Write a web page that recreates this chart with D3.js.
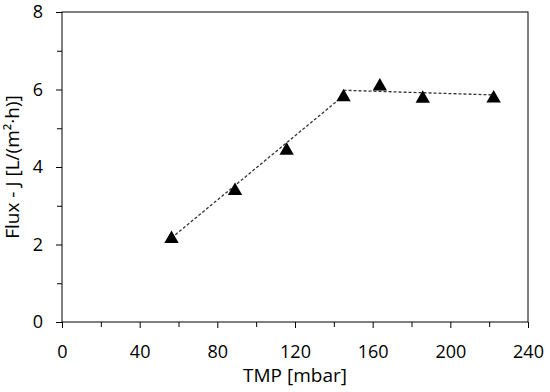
<!DOCTYPE html>
<html>
<head>
<meta charset="utf-8">
<script src="https://cdn.jsdelivr.net/npm/d3@7"></script>
<style>
  body { margin: 0; background: #fff; }
  text { font-family: "Open Sans", sans-serif; fill: #000; }
</style>
</head>
<body>
<script>
// measured points (TMP in mbar, flux in L/(m2.h))
const tmp = [56.4, 89.1, 115.7, 145, 163.7, 185.8, 222.3]
const flux = [2.17, 3.41, 4.45, 5.83, 6.11, 5.79, 5.80]

// dashed trend segments, end points
const trend1 = [[56.4, 2.17], [145, 5.84]]
const trend2 = [[145, 5.98], [222.3, 5.86]]

const xTicks = [0, 40, 80, 120, 160, 200, 240]
const xMinor = [20, 60, 100, 140, 180, 220]
const yTicks = [0, 2, 4, 6, 8]
const yMinor = [1, 3, 5, 7]

const w = 550
const h = 392
const mLeft = 62, mRight = 528, mTop = 12, mBottom = 322

const svg = d3.select("body")
  .append("svg")
  .attr("width", w)
  .attr("height", h)

const x = d3.scaleLinear().domain([0, 240]).range([mLeft, mRight])
const y = d3.scaleLinear().domain([0, 8]).range([mBottom, mTop])

// frame
svg.append("rect")
  .attr("x", mLeft)
  .attr("y", mTop)
  .attr("width", mRight - mLeft)
  .attr("height", mBottom - mTop)
  .attr("fill", "none")
  .attr("stroke", "#000")
  .attr("stroke-width", 1)

// minor ticks
svg.append("g")
  .attr("transform", `translate(0,${mBottom})`)
  .call(d3.axisBottom(x).tickValues(xMinor).tickSize(5).tickFormat(""))
  .call(g => g.select(".domain").remove())
svg.append("g")
  .attr("transform", `translate(${mLeft},0)`)
  .call(d3.axisLeft(y).tickValues(yMinor).tickSize(5).tickFormat(""))
  .call(g => g.select(".domain").remove())

// major ticks + labels
svg.append("g")
  .attr("transform", `translate(0,${mBottom})`)
  .call(d3.axisBottom(x).tickValues(xTicks).tickSize(6).tickPadding(17).tickSizeOuter(0))
  .call(g => g.select(".domain").remove())
  .call(g => g.selectAll("text").style("font-size", "18px").attr("fill", "#000"))
svg.append("g")
  .attr("transform", `translate(${mLeft},0)`)
  .call(d3.axisLeft(y).tickValues(yTicks).tickSize(6).tickPadding(13).tickSizeOuter(0))
  .call(g => g.select(".domain").remove())
  .call(g => g.selectAll("text").style("font-size", "18px").attr("fill", "#000"))

svg.selectAll(".tick line").attr("stroke", "#000")

// axis titles
svg.append("text")
  .attr("x", (mLeft + mRight) / 2)
  .attr("y", 382)
  .attr("text-anchor", "middle")
  .style("font-size", "19px")
  .text("TMP [mbar]")

svg.append("text")
  .attr("transform", `translate(19,${(mTop + mBottom) / 2}) rotate(-90)`)
  .attr("text-anchor", "middle")
  .style("font-size", "19px")
  .text("Flux - J [L/(m²·h)]")

// trend lines
const line = d3.line().x(d => x(d[0])).y(d => y(d[1]))
svg.selectAll(".trend")
  .data([trend1, trend2])
  .enter()
  .append("path")
  .attr("class", "trend")
  .attr("d", line)
  .attr("fill", "none")
  .attr("stroke", "#333")
  .attr("stroke-width", 1.3)
  .attr("stroke-dasharray", "3,2")

// markers
const tri = d3.symbol().type(d3.symbolTriangle).size(90)
svg.selectAll(".pt")
  .data(tmp)
  .enter()
  .append("path")
  .attr("class", "pt")
  .attr("d", tri)
  .attr("transform", (d, i) => `translate(${x(d)},${y(flux[i]) + 1})`)
  .attr("fill", "#000")
</script>
</body>
</html>
